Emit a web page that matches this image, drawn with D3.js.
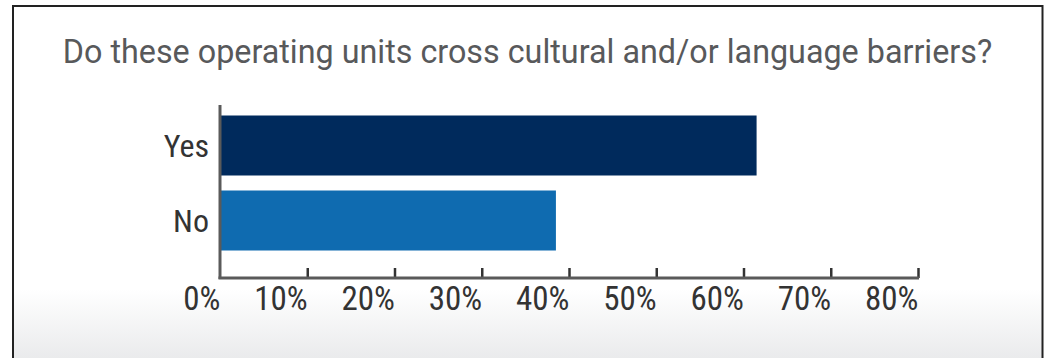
<!DOCTYPE html>
<html>
<head>
<meta charset="utf-8">
<script src="https://cdn.jsdelivr.net/npm/d3@7"></script>
<style>
  html, body { margin: 0; padding: 0; background: #ffffff; }
  svg { display: block; }
</style>
</head>
<body>
<svg id="chart" width="1047" height="358"></svg>
<script>
// Survey answers and shares (percent of respondents)
const categories = ["Yes", "No"];
const shares = [61.5, 38.5];
const barColors = ["#002a5c", "#0f6bb0"];
const tickValues = [0, 10, 20, 30, 40, 50, 60, 70, 80];
const titleText = "Do these operating units cross cultural and/or language barriers?";

const svg = d3.select("#chart");
const W = 1047, H = 358;

// Panel background with soft grey fade at the bottom
const defs = svg.append("defs");
const grad = defs.append("linearGradient")
  .attr("id", "panelFade").attr("x1", 0).attr("y1", 0).attr("x2", 0).attr("y2", 1);
grad.append("stop").attr("offset", "0").attr("stop-color", "#ffffff");
grad.append("stop").attr("offset", "0.77").attr("stop-color", "#ffffff");
grad.append("stop").attr("offset", "1").attr("stop-color", "#e5e6e8");

svg.append("rect")
  .attr("x", 13).attr("y", 6).attr("width", 1029.5).attr("height", H + 10)
  .attr("fill", "url(#panelFade)")
  .attr("stroke", "#222").attr("stroke-width", 2);

// Title: font size tuned so the line spans the panel's text width
const title = svg.append("text")
  .attr("x", 527.5).attr("y", 63)
  .attr("text-anchor", "middle")
  .attr("font-family", "Roboto, 'Liberation Sans', sans-serif")
  .attr("font-size", 34)
  .attr("fill", "#58595b")
  .text(titleText);
const natural = title.node().getComputedTextLength();
title.attr("font-size", 34 * 930 / natural);

// Scales
const x = d3.scaleLinear().domain([0, 80]).range([220, 918]);
const y = d3.scaleBand().domain(categories).range([108, 258]).paddingInner(0.2).paddingOuter(0.1);

const labelFont = "'Liberation Sans Narrow', 'Roboto Condensed', 'DejaVu Sans Condensed', sans-serif";

// Bars
svg.append("g").selectAll("rect")
  .data(categories)
  .join("rect")
  .attr("x", x(0))
  .attr("y", d => y(d))
  .attr("width", (d, i) => x(shares[i]) - x(0))
  .attr("height", y.bandwidth())
  .attr("fill", (d, i) => barColors[i]);

// Category axis (left)
const yAxis = svg.append("g")
  .attr("transform", `translate(${x(0)},0)`)
  .call(d3.axisLeft(y).tickSize(0).tickPadding(11));
yAxis.select(".domain").remove();
yAxis.append("line")
  .attr("x1", 0).attr("x2", 0).attr("y1", 105).attr("y2", 279)
  .attr("stroke", "#5a5a5a").attr("stroke-width", 3);
yAxis.selectAll("text")
  .attr("font-family", labelFont)
  .attr("font-size", 32)
  .attr("fill", "#333")
  .attr("dy", "0.36em");

// Value axis (bottom): inward ticks, labels sit to the left of each tick
const xAxis = svg.append("g")
  .attr("transform", "translate(0,278)")
  .call(d3.axisBottom(x).tickValues(tickValues).tickSize(0).tickFormat(d => d + "%"));
xAxis.select(".domain").remove();
xAxis.append("line")
  .attr("x1", x(0) - 1.5).attr("x2", x(80) + 1).attr("y1", 0).attr("y2", 0)
  .attr("stroke", "#5a5a5a").attr("stroke-width", 3);
xAxis.selectAll(".tick")
  .filter(d => d > 0)
  .append("line")
  .attr("y1", 0).attr("y2", -10)
  .attr("stroke", "#333").attr("stroke-width", 2.5);
xAxis.selectAll(".tick text")
  .attr("text-anchor", "end")
  .attr("x", 0)
  .attr("y", 32)
  .attr("dy", 0)
  .attr("font-family", labelFont)
  .attr("font-size", 33)
  .attr("fill", "#333");
</script>
</body>
</html>
